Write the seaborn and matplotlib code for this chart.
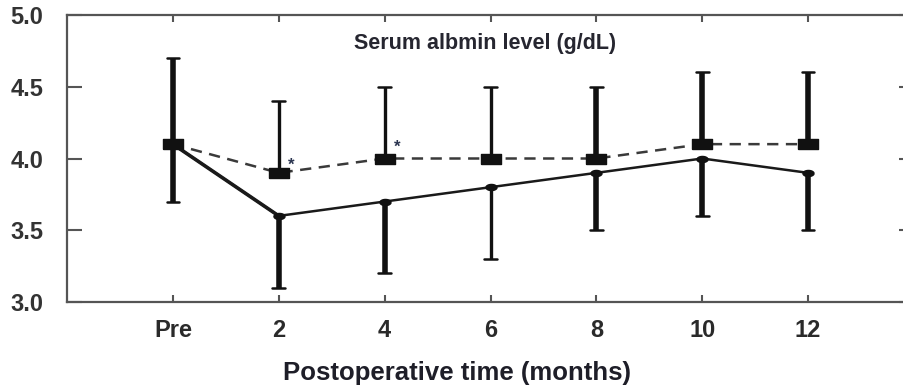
import numpy as np
import matplotlib
matplotlib.use("Agg")
import matplotlib.pyplot as plt
import seaborn as sns
import pandas as pd

# Serum albumin after surgery, two groups
time_labels = ["Pre", "2", "4", "6", "8", "10", "12"]
solid_mean = [4.1, 3.6, 3.7, 3.8, 3.9, 4.0, 3.9]
solid_low = [3.7, 3.1, 3.2, 3.3, 3.5, 3.6, 3.5]
dashed_mean = [4.1, 3.9, 4.0, 4.0, 4.0, 4.1, 4.1]
dashed_high = [4.7, 4.4, 4.5, 4.5, 4.5, 4.6, 4.6]
y_ticks = [3.0, 3.5, 4.0, 4.5, 5.0]
title_text = "Serum albmin level (g/dL)"
x_title = "Postoperative time (months)"
star_points = [(1, 3.9), (2, 4.0)]

sns.set_theme(style="ticks")
plt.rcParams["font.family"] = ["Liberation Sans", "DejaVu Sans"]

W, H = 904, 389
fig = plt.figure(figsize=(W / 100, H / 100), dpi=100)
ax = fig.add_axes([67 / W, (H - 302) / H, 847 / W, 287 / H])

x = np.arange(len(time_labels))
df = pd.DataFrame({"x": np.concatenate([x, x]),
                   "y": solid_mean + dashed_mean,
                   "group": ["solid"] * len(x) + ["dashed"] * len(x)})

# connecting lines
sns.lineplot(data=df[df.group == "solid"], x="x", y="y", ax=ax,
             color="#1a1a1a", lw=1.8, zorder=3, legend=False)
sns.lineplot(data=df[df.group == "dashed"], x="x", y="y", ax=ax,
             color="#3a3a3a", lw=1.8, zorder=3, legend=False,
             dashes=False, linestyle=(0, (4.5, 3)))
# thicker first segment of the solid line
ax.plot(x[:2], solid_mean[:2], color="#1a1a1a", lw=2.6, zorder=3,
        solid_capstyle="butt")

# error bars: dashed group upward, solid group downward
up_lw = [4.0, 2.4, 2.4, 2.4, 4.0, 4.0, 4.0]
dn_lw = [4.0, 4.0, 4.0, 2.4, 4.0, 4.0, 4.0]
cap_half = 0.06
for i in range(len(x)):
    ax.plot([x[i], x[i]], [dashed_mean[i], dashed_high[i]], color="#111111",
            lw=up_lw[i], solid_capstyle="butt", zorder=2)
    ax.plot([x[i] - cap_half, x[i] + cap_half], [dashed_high[i]] * 2,
            color="#111111", lw=1.8, zorder=2)
    ax.plot([x[i], x[i]], [solid_low[i], solid_mean[i]], color="#111111",
            lw=dn_lw[i], solid_capstyle="butt", zorder=2)
    ax.plot([x[i] - cap_half, x[i] + cap_half], [solid_low[i]] * 2,
            color="#111111", lw=1.8, zorder=2)

# markers
rect = [(-1, -0.45), (1, -0.45), (1, 0.45), (-1, 0.45), (-1, -0.45)]
ell_t = np.linspace(0, 2 * np.pi, 30)
ellipse = list(zip(np.cos(ell_t), 0.55 * np.sin(ell_t)))
ax.plot(x, dashed_mean, ls="none", marker=rect, ms=15, color="#111111",
        mec="#111111", zorder=4)
ax.plot(x, solid_mean, ls="none", marker=ellipse, ms=8, color="#111111",
        mec="#111111", zorder=4)

# significance marks
for (sx, sy), dy in zip(star_points, [0.055, 0.075]):
    ax.text(sx + 0.12, sy + dy, "*", fontsize=12, color="#2b3550",
            ha="center", va="center", fontweight="bold", zorder=5)

ax.text(2.95, 4.8, title_text, ha="center", va="center",
        fontsize=15.5, fontweight="bold", color="#262630")

ax.set_xlim(-1, 7)
ax.set_ylim(3.0, 5.0)
ax.set_xticks(x)
ax.set_xticklabels(time_labels)
ax.set_yticks(y_ticks)
ax.set_yticklabels([f"{v:.1f}" for v in y_ticks])
ax.set_xlabel(x_title, fontsize=18.5, fontweight="bold", color="#1e1e28")
ax.xaxis.set_label_coords((457 - 67) / 847, -(373 - 302) / 287)
ax.xaxis.label.set_va("center")
ax.set_ylabel("")

for s in ax.spines.values():
    s.set_visible(True)
    s.set_color("#555555")
    s.set_linewidth(1.6)

ax.tick_params(axis="y", direction="in", length=11, width=1.5, color="#555555",
               right=True, left=True, pad=17, labelsize=17, labelcolor="#333333")
ax.tick_params(axis="x", direction="in", length=5, width=1.5, color="#555555",
               top=True, bottom=True, pad=12, labelsize=17, labelcolor="#2a2a2a")
for lab in ax.get_xticklabels() + ax.get_yticklabels():
    lab.set_fontweight("bold")

fig.savefig("out.png", dpi=100)
